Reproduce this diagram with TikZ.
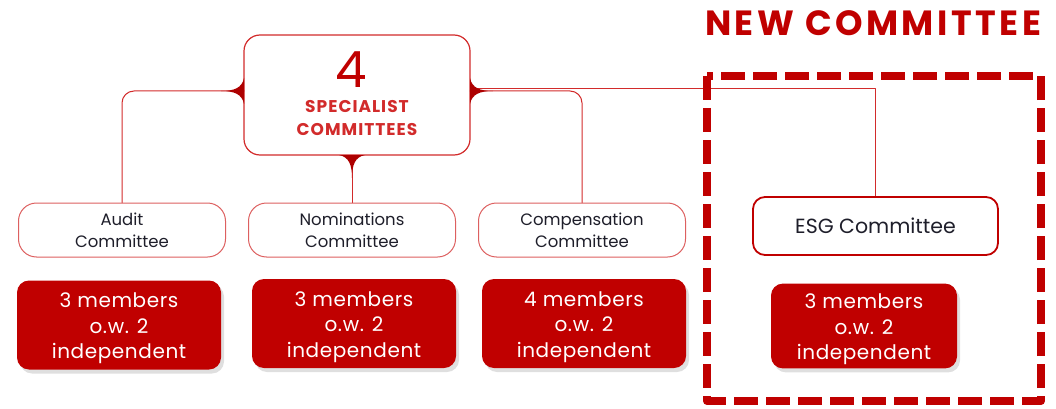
\documentclass[tikz,border=0pt]{standalone}
\usepackage{fontspec}
\setmainfont{Poppins}
\usetikzlibrary{positioning,shadows}
\definecolor{brandred}{HTML}{C00000}
\definecolor{linered}{HTML}{D22B2B}
\definecolor{ink}{HTML}{1E1E2A}
\newcommand{\upstrut}{\rule{0pt}{22pt}}
\tikzset{
  every picture/.style={line join=round, line cap=round},
  hubbox/.style={draw=linered, line width=1.2pt, rounded corners=16pt, fill=white,
    minimum width=226pt, minimum height=120pt},
  unitbox/.style={draw=linered!75, line width=1pt, rounded corners=18pt, fill=white,
    minimum width=207pt, minimum height=54pt, align=center, text=ink,
    font=\fontsize{16.5}{22}\selectfont},
  membox/.style={fill=brandred, rounded corners=12pt, minimum width=204pt,
    minimum height=89pt, align=center, text=white,
    font=\fontsize{20}{25.5}\selectfont\addfontfeatures{LetterSpace=3},
    drop shadow={shadow xshift=3pt, shadow yshift=-4pt, opacity=0.25}},
  link/.style={draw=linered, line width=1pt},
  cusp/.style={fill=brandred!90!black},
}
\begin{document}
\begin{tikzpicture}[x=1pt,y=-1pt]
\useasboundingbox (0,0) rectangle (1056,409);
% central hub
\node[hubbox] (hub) at (357,95) {};
\node[text=brandred, font=\fontsize{50}{50}\selectfont, inner sep=0pt] (hubnum) at (351,70) {4};
\node[text=linered, align=center, inner sep=0pt,
  font=\fontsize{17}{23}\selectfont\bfseries\addfontfeatures{LetterSpace=6}]
  (hubcap) at (357,118) {SPECIALIST\\COMMITTEES};
\coordinate (hubL) at (244,91);
\coordinate (hubR) at (470,91);
% committees
\foreach \name/\x/\lab in {audit/122/{Audit\\Committee}, nom/352/{Nominations\\Committee},
                           comp/582/{Compensation\\Committee}}{
  \node[unitbox] (\name) at (\x,230) {\lab};
}
\node[unitbox, draw=brandred, line width=1.8pt, rounded corners=12pt, minimum width=245pt,
  minimum height=58pt, font=\fontsize{20.5}{22}\selectfont] (esg) at (875.5,226) {ESG Committee};
% members
\node[membox] (audm) at (119,325) {\upstrut 3 members\\o.w. 2\\independent};
\node[membox] (nomm) at (354,323.5) {\upstrut 3 members\\o.w. 2\\independent};
\node[membox] (compm) at (584,323.5) {\upstrut 4 members\\o.w. 2\\independent};
\node[membox, minimum width=186pt, minimum height=84pt] (esgm) at (864,326)
  {\upstrut 3 members\\o.w. 2\\independent};
% connectors
\draw[link, rounded corners=12pt] (hubL) -| (audit.north);
\draw[link] (hub.south -| nom.north) -- (nom.north);
\draw[link, rounded corners=12pt] (hubR) -| (comp.north);
\draw[link, line cap=butt] ([yshift=2pt]hubR) -| (esg.north);
% cusps on the hub
\fill[cusp] (244,78) .. controls (242,88) and (234,91) .. (221,91)
  .. controls (234,91) and (242,94) .. (244,104) -- cycle;
\fill[cusp] (470,78) .. controls (472,88) and (480,91) .. (493,91)
  .. controls (480,91) and (472,94) .. (470,104) -- cycle;
\fill[cusp] (339,155) .. controls (349,157) and (352,165) .. (352,178)
  .. controls (352,165) and (355,157) .. (365,155) -- cycle;
% new committee frame
\draw[brandred, line width=8pt, line cap=butt, dash pattern=on 24pt off 8pt]
  (707,76) rectangle (1041,401);
\node[text=brandred, font=\fontsize{35}{40}\selectfont\bfseries\addfontfeatures{LetterSpace=10}]
  (newlab) at (873,23) {NEW COMMITTEE};
\end{tikzpicture}
\end{document}
